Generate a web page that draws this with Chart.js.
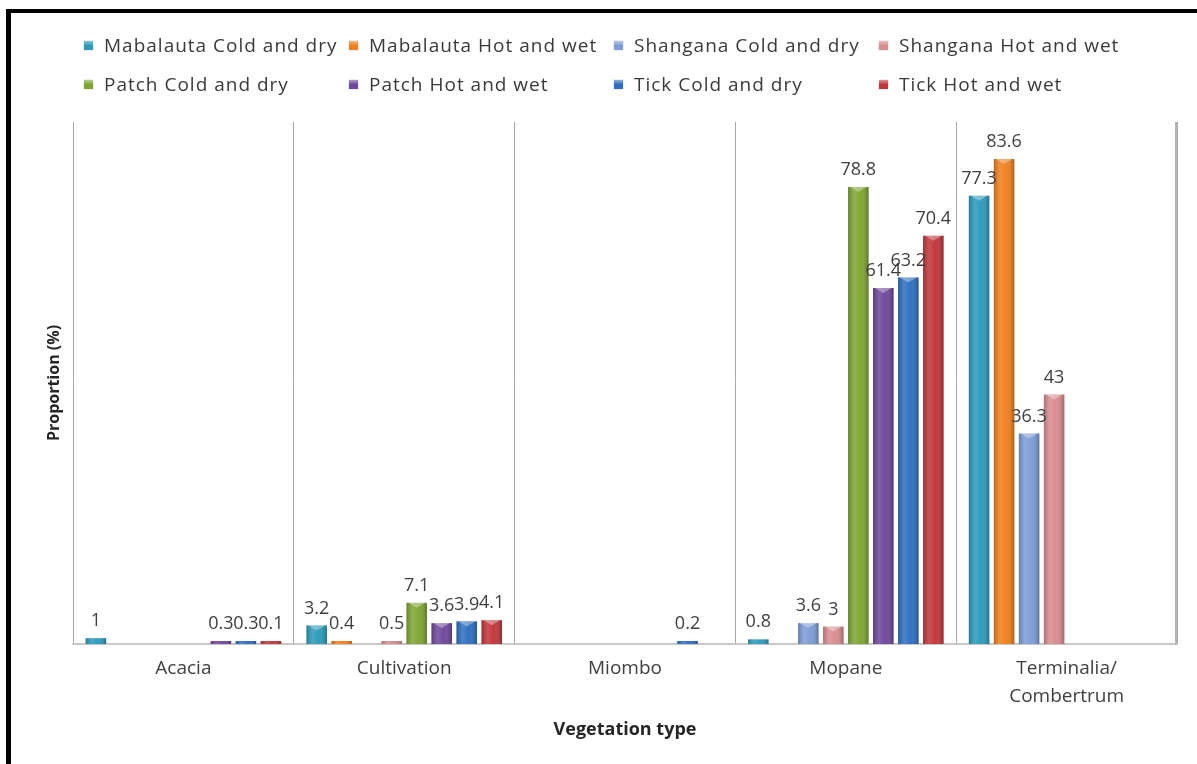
<!DOCTYPE html>
<html lang="en">
<head>
  <meta charset="UTF-8">
  <title>Proportion by vegetation type</title>
  <script src="https://cdn.jsdelivr.net/npm/chart.js@4"></script>
  <style>
    html, body { margin: 0; padding: 0; background: #fff; }
    body {
      width: 1197px; height: 764px; position: relative; overflow: hidden;
      font-family: "Open Sans", sans-serif;
    }
    .chart-box { position: absolute; left: 0; top: 0; width: 1197px; height: 764px; }
    .frame {
      position: absolute; left: 6px; top: 9px; right: -10px; bottom: -10px;
      border-top: 4px solid #000; border-left: 5px solid #000; pointer-events: none;
    }
    #legend {
      position: absolute; left: 84px; top: 33px;
      display: grid; grid-template-columns: repeat(4, 265px); row-gap: 15px;
    }
    .item { display: flex; align-items: center; height: 24px; color: #3a3a3a;
      font-size: 19px; letter-spacing: 1px; white-space: nowrap; }
    .swatch { width: 9px; height: 9px; margin-right: 11px; box-shadow: 0 0 1px rgba(0,0,0,0.4); }
  </style>
</head>
<body>
  <div class="chart-box"><canvas id="vegChart"></canvas></div>
  <div id="legend"></div>
  <div class="frame"></div>

  <script>
    // categories along the x axis
    const categories = ['Acacia', 'Cultivation', 'Miombo', 'Mopane', ['Terminalia/', 'Combertrum']];

    // proportion (%) per vegetation type, null = no bar
    const mabalautaCold = [1, 3.2, null, 0.8, 77.3];
    const mabalautaHot  = [null, 0.4, null, null, 83.6];
    const shanganaCold  = [null, null, null, 3.6, 36.3];
    const shanganaHot   = [null, 0.5, null, 3, 43];
    const patchCold     = [null, 7.1, null, 78.8, null];
    const patchHot      = [0.3, 3.6, null, 61.4, null];
    const tickCold      = [0.3, 3.9, 0.2, 63.2, null];
    const tickHot       = [0.1, 4.1, null, 70.4, null];

    const seriesNames = [
      'Mabalauta Cold and dry', 'Mabalauta Hot and wet', 'Shangana Cold and dry', 'Shangana Hot and wet',
      'Patch Cold and dry', 'Patch Hot and wet', 'Tick Cold and dry', 'Tick Hot and wet'
    ];
    const seriesData = [mabalautaCold, mabalautaHot, shanganaCold, shanganaHot, patchCold, patchHot, tickCold, tickHot];
    const seriesColors = ['#2c9bbb', '#f07f1c', '#7d9dd6', '#d98c8e', '#7ea532', '#6f479c', '#2e6fc0', '#c2363a'];

    const FONT = '"Open Sans", sans-serif';

    // cylinder-like shading over each bar
    const barShading = {
      id: 'barShading',
      afterDatasetDraw(chart, args) {
        const ctx = chart.ctx;
        args.meta.data.forEach(bar => {
          const { x, y, base, width } = bar.getProps(['x', 'y', 'base', 'width'], true);
          const h = base - y;
          if (!(h > 0)) return;
          const left = x - width / 2;
          ctx.save();
          const g = ctx.createLinearGradient(left, 0, left + width, 0);
          g.addColorStop(0, 'rgba(0,0,0,0.20)');
          g.addColorStop(0.3, 'rgba(255,255,255,0.14)');
          g.addColorStop(0.6, 'rgba(255,255,255,0.02)');
          g.addColorStop(1, 'rgba(0,0,0,0.28)');
          ctx.fillStyle = g;
          ctx.fillRect(left, y, width, h);
          if (h > 6) {
            // light cap with a small notch at the top
            ctx.fillStyle = 'rgba(255,255,255,0.35)';
            ctx.beginPath();
            ctx.moveTo(left + 2, y);
            ctx.lineTo(left + width - 2, y);
            ctx.lineTo(x, y + 5);
            ctx.closePath();
            ctx.fill();
          }
          ctx.restore();
        });
      }
    };

    // value printed above each bar
    const valueLabels = {
      id: 'valueLabels',
      afterDatasetsDraw(chart) {
        const ctx = chart.ctx;
        ctx.save();
        ctx.font = '18px ' + FONT;
        ctx.fillStyle = '#404040';
        ctx.textAlign = 'center';
        ctx.textBaseline = 'bottom';
        chart.data.datasets.forEach((ds, i) => {
          chart.getDatasetMeta(i).data.forEach((bar, j) => {
            const v = ds.data[j];
            if (v === null || v === undefined) return;
            ctx.fillText(String(v), bar.x, bar.y - 8);
          });
        });
        ctx.restore();
      }
    };

    // closing line on the right side of the plot area
    const rightEdge = {
      id: 'rightEdge',
      afterDraw(chart) {
        const { ctx, chartArea } = chart;
        const x = Math.round(chartArea.right) - 1;
        ctx.save();
        ctx.strokeStyle = '#b4b4b4';
        ctx.lineWidth = 2;
        ctx.beginPath();
        ctx.moveTo(x, chartArea.top);
        ctx.lineTo(x, chartArea.bottom + 1);
        ctx.stroke();
        ctx.restore();
      }
    };

    const chart = new Chart(document.getElementById('vegChart'), {
      type: 'bar',
      data: {
        labels: categories,
        datasets: seriesNames.map((name, i) => ({
          label: name,
          data: seriesData[i],
          backgroundColor: seriesColors[i],
          borderWidth: 0,
          minBarLength: 3,
          categoryPercentage: 0.906,
          barPercentage: 0.82
        }))
      },
      options: {
        responsive: true,
        maintainAspectRatio: false,
        animation: false,
        layout: { padding: { left: 0, right: 20, top: 122, bottom: 0 } },
        plugins: {
          legend: { display: false },
          tooltip: { enabled: false }
        },
        scales: {
          x: {
            afterFit(scale) { scale.height = 120; },
            grid: { color: '#a6a6a6', lineWidth: 1, drawTicks: false, offset: true },
            border: { color: '#c8c8c8', width: 2 },
            ticks: {
              color: '#404040', padding: 11,
              font: { family: FONT, size: 19, lineHeight: 1.47 }
            },
            title: {
              display: true, text: 'Vegetation type', color: '#262626',
              font: { family: FONT, size: 18, weight: 'bold' },
              padding: { top: 0, bottom: 23 }
            }
          },
          y: {
            min: 0, max: 90,
            afterFit(scale) { scale.width = 73; },
            grid: { display: false },
            border: { display: false },
            ticks: { display: false },
            title: {
              display: true, text: 'Proportion (%)', color: '#262626',
              font: { family: FONT, size: 16, weight: 'bold' },
              padding: { top: 45, bottom: 0 }
            }
          }
        }
      },
      plugins: [rightEdge, barShading, valueLabels]
    });

    // legend in a fixed 4-column grid
    const legend = document.getElementById('legend');
    seriesNames.forEach((name, i) => {
      const item = document.createElement('div');
      item.className = 'item';
      const sw = document.createElement('span');
      sw.className = 'swatch';
      sw.style.background = 'linear-gradient(180deg, rgba(255,255,255,0.45), rgba(255,255,255,0) 50%), ' + seriesColors[i];
      item.appendChild(sw);
      item.appendChild(document.createTextNode(name));
      legend.appendChild(item);
    });
  </script>
</body>
</html>
